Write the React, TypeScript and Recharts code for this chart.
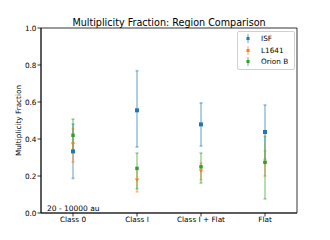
import React from 'react';
import {
    ComposedChart, Scatter, ErrorBar, XAxis, YAxis, ReferenceArea, Label, Legend,
} from 'recharts';

const categories = ['Class 0', 'Class I', 'Class I + Flat', 'Flat'];

const isfValues = [0.333, 0.555, 0.479, 0.438];
const isfLow = [0.187, 0.357, 0.362, 0.29];
const isfHigh = [0.48, 0.769, 0.595, 0.584];

const l1641Values = [0.373, 0.178, 0.227, 0.27];
const l1641Low = [0.275, 0.114, 0.18, 0.2];
const l1641High = [0.455, 0.245, 0.27, 0.337];

const orionValues = [0.42, 0.241, 0.25, 0.274];
const orionLow = [0.33, 0.131, 0.162, 0.076];
const orionHigh = [0.508, 0.324, 0.324, 0.414];

const yTicks = [0, 0.2, 0.4, 0.6, 0.8, 1.0];

const FONT = '"DejaVu Sans", sans-serif';
const BLUE = '#1f77b4';
const ORANGE = '#ff7f0e';
const GREEN = '#2ca02c';

const data = categories.map((cat, i) => ({
    cat,
    isf: isfValues[i],
    isfErr: [isfValues[i] - isfLow[i], isfHigh[i] - isfValues[i]],
    l1641: l1641Values[i],
    l1641Err: [l1641Values[i] - l1641Low[i], l1641High[i] - l1641Values[i]],
    orion: orionValues[i],
    orionErr: [orionValues[i] - orionLow[i], orionHigh[i] - orionValues[i]],
}));

const Square = (color: string, s: number) => (p: any) => (
    <rect x={p.cx - s / 2} y={p.cy - s / 2} width={s} height={s} fill={color} />
);

const Triangle = (p: any) => (
    <path d={`M${p.cx - 2.2},${p.cy - 1.5} L${p.cx + 2.2},${p.cy - 1.5} L${p.cx},${p.cy + 1.8} Z`} fill={ORANGE} />
);

const legendItems = [
    { name: 'ISF', color: BLUE },
    { name: 'L1641', color: ORANGE },
    { name: 'Orion B', color: GREEN },
];

const LegendBox = () => (
    <div style={{
        border: '1px solid #d0d0d0', borderRadius: 2, background: '#fff', whiteSpace: 'nowrap',
        padding: '1px 4px 1px 5px', fontFamily: FONT, fontSize: 7.3, width: 47,
    }}>
        {legendItems.map((it) => (
            <div key={it.name} style={{ display: 'flex', alignItems: 'center', height: 11.5 }}>
                <svg width={12} height={11}>
                    <line x1={5} x2={5} y1={1} y2={10} stroke={it.color} strokeOpacity={0.45} strokeWidth={1.6} />
                    <rect x={3.5} y={4} width={3} height={3} fill={it.color} />
                </svg>
                <span style={{ marginLeft: 6 }}>{it.name}</span>
            </div>
        ))}
    </div>
);

const App = () => (
    <div style={{ position: 'absolute', left: 0, top: 0, background: '#fff' }}>
        <ComposedChart width={330} height={240} data={data}
            margin={{ top: 28, right: 33, bottom: 7, left: 0 }}>
            <XAxis dataKey="cat" type="category" scale="band" height={20} tickSize={3.5} tickMargin={0}
                axisLine={{ stroke: '#000', strokeWidth: 0.8 }}
                tickLine={{ stroke: '#000', strokeWidth: 0.8 }}
                tick={{ fill: '#000', fontSize: 7.3, fontFamily: FONT }} />
            <YAxis type="number" domain={[0, 1]} ticks={yTicks} width={41} tickSize={3.5} tickMargin={1}
                interval={0}
                tickFormatter={(v: number) => v.toFixed(1)}
                axisLine={{ stroke: '#000', strokeWidth: 0.8 }}
                tickLine={{ stroke: '#000', strokeWidth: 0.8 }}
                tick={{ fill: '#000', fontSize: 7.3, fontFamily: FONT }}>
                <Label value="Multiplicity Fraction" angle={-90} position="center" dx={-2}
                    style={{ fontSize: 7.3, fontFamily: FONT, fill: '#000' }} />
            </YAxis>
            <ReferenceArea y1={0} y2={1} fill="none" stroke="#000" strokeWidth={0.8} ifOverflow="visible">
                <Label value="Multiplicity Fraction: Region Comparison" position="top" offset={2}
                    style={{ fontSize: 9.6, fontFamily: FONT, fill: '#000' }} />
                <Label value="20 - 10000 au" position="insideBottomLeft" offset={0} dx={6} dy={-2.5}
                    style={{ fontSize: 7.5, fontFamily: FONT, fill: '#000' }} />
            </ReferenceArea>
            <Scatter dataKey="isf" name="ISF" fill={BLUE} isAnimationActive={false} shape={Square(BLUE, 4)}>
                <ErrorBar dataKey="isfErr" direction="y" width={1.5} stroke={BLUE} strokeOpacity={0.4} strokeWidth={1.8} />
            </Scatter>
            <Scatter dataKey="l1641" name="L1641" fill={ORANGE} isAnimationActive={false} shape={Triangle}>
                <ErrorBar dataKey="l1641Err" direction="y" width={1.5} stroke={ORANGE} strokeOpacity={0.4} strokeWidth={1.8} />
            </Scatter>
            <Scatter dataKey="orion" name="Orion B" fill={GREEN} isAnimationActive={false} shape={Square(GREEN, 3.4)}>
                <ErrorBar dataKey="orionErr" direction="y" width={1.5} stroke={GREEN} strokeOpacity={0.4} strokeWidth={1.8} />
            </Scatter>
            <Legend content={LegendBox} layout="vertical" align="center" verticalAlign="middle"
                wrapperStyle={{ left: 237, top: 31, width: 58 }} />
        </ComposedChart>
    </div>
);

export default App;
